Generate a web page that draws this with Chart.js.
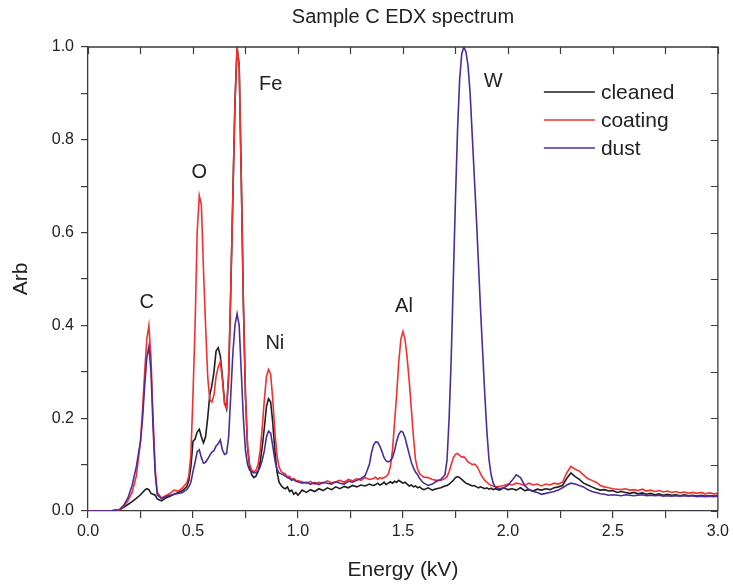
<!DOCTYPE html>
<html>
<head>
<meta charset="utf-8">
<title>Sample C EDX spectrum</title>
<script src="https://cdn.jsdelivr.net/npm/chart.js@4.4.1/dist/chart.umd.min.js"></script>
<style>
  html, body { margin: 0; padding: 0; background: #fff; }
  #wrap { width: 733px; height: 586px; }
</style>
</head>
<body>
<div id="wrap"><canvas id="spectrum" width="733" height="586"></canvas></div>
<script>
// energy axis (kV), denser sampling around the peaks
const energies = [
  0, 0.10, 0.15, 0.17, 0.19, 0.21, 0.23, 0.25, 0.26, 0.27, 0.28, 0.29, 0.30, 0.31, 0.32, 0.33,
  0.35, 0.37, 0.39, 0.41, 0.43, 0.45, 0.47,
  0.48, 0.49, 0.50, 0.51, 0.52, 0.53, 0.54, 0.55, 0.56, 0.57,
  0.58, 0.59, 0.60, 0.61, 0.62, 0.63, 0.64, 0.65, 0.66, 0.67,
  0.68, 0.69, 0.70, 0.71, 0.72, 0.73, 0.74, 0.75, 0.76, 0.77,
  0.78, 0.79, 0.80, 0.81, 0.82, 0.83, 0.84, 0.85, 0.86, 0.87,
  0.88, 0.89, 0.90, 0.91, 0.92, 0.93, 0.94, 0.95, 0.96, 0.97,
  0.98, 0.99, 1.00,
  1.02, 1.04, 1.06, 1.08, 1.10, 1.12, 1.14, 1.16, 1.18, 1.20, 1.22, 1.24, 1.26, 1.28, 1.30, 1.32, 1.34,
  1.35, 1.36, 1.37, 1.38, 1.39, 1.40, 1.41, 1.42, 1.43, 1.44, 1.45, 1.46, 1.47,
  1.48, 1.49, 1.50, 1.51, 1.52, 1.53, 1.54, 1.55, 1.56, 1.57, 1.58, 1.59, 1.60,
  1.62, 1.64, 1.66, 1.68, 1.70,
  1.71, 1.72, 1.73, 1.74, 1.75, 1.76, 1.77, 1.78, 1.79, 1.80, 1.81, 1.82,
  1.83, 1.84, 1.85, 1.86, 1.87, 1.88, 1.89, 1.90, 1.91, 1.92, 1.93, 1.94,
  1.96, 1.98, 2.00, 2.02, 2.04, 2.06, 2.08, 2.10, 2.12, 2.14,
  2.16, 2.18, 2.20, 2.22, 2.24, 2.26, 2.28, 2.30, 2.32, 2.34,
  2.36, 2.38, 2.40, 2.42, 2.44, 2.46, 2.48, 2.50, 2.52, 2.54,
  2.56, 2.58, 2.60, 2.62, 2.64, 2.66, 2.68, 2.70, 2.72, 2.74,
  2.76, 2.78, 2.80, 2.82, 2.84, 2.86, 2.88, 2.90, 2.92, 2.94,
  2.96, 2.98, 3.00
];

const cleaned = [
  0, 0, 0.002, 0.008, 0.014, 0.020, 0.027, 0.035, 0.040, 0.045, 0.048, 0.046, 0.038, 0.036, 0.034, 0.026,
  0.022, 0.028, 0.032, 0.036, 0.040, 0.044, 0.052,
  0.065, 0.095, 0.150, 0.155, 0.170, 0.176, 0.160, 0.147, 0.160, 0.200,
  0.250, 0.270, 0.300, 0.345, 0.352, 0.335, 0.290, 0.235, 0.220, 0.290,
  0.475, 0.680, 0.880, 1.000, 0.960, 0.718, 0.448, 0.248, 0.137, 0.094,
  0.078, 0.072, 0.075, 0.085, 0.105, 0.140, 0.180, 0.225, 0.242, 0.235,
  0.190, 0.130, 0.085, 0.062, 0.055, 0.050, 0.048, 0.052, 0.042, 0.045,
  0.036, 0.040, 0.034,
  0.045, 0.040, 0.046, 0.042, 0.048, 0.044, 0.050, 0.046, 0.052, 0.048, 0.053, 0.050, 0.055, 0.052, 0.056, 0.054, 0.058,
  0.056, 0.055, 0.057, 0.060, 0.056, 0.058, 0.062, 0.057, 0.060, 0.063, 0.060, 0.064, 0.062,
  0.066, 0.063, 0.060, 0.062, 0.058, 0.054, 0.056, 0.052, 0.054, 0.050, 0.052, 0.048, 0.046,
  0.050, 0.045, 0.048, 0.050, 0.054,
  0.055, 0.058, 0.062, 0.066, 0.072, 0.074, 0.072, 0.068, 0.064, 0.060, 0.058, 0.056,
  0.054, 0.055, 0.052, 0.050, 0.052, 0.050, 0.048, 0.050, 0.047, 0.049, 0.046, 0.048,
  0.045, 0.050, 0.046, 0.048, 0.045, 0.050, 0.044, 0.046, 0.043, 0.047,
  0.045, 0.048, 0.046, 0.050, 0.052, 0.055, 0.070, 0.082, 0.074, 0.068,
  0.060, 0.056, 0.052, 0.048, 0.045, 0.046, 0.043, 0.044, 0.040, 0.042,
  0.040, 0.038, 0.040, 0.037, 0.039, 0.036, 0.038, 0.035, 0.037, 0.034,
  0.036, 0.034, 0.035, 0.033, 0.035, 0.033, 0.034, 0.032, 0.034, 0.032,
  0.033, 0.032, 0.033
];

const coating = [
  0, 0, 0.002, 0.010, 0.022, 0.040, 0.075, 0.150, 0.220, 0.300, 0.370, 0.400, 0.330, 0.200, 0.090, 0.040,
  0.028, 0.033, 0.038, 0.045, 0.043, 0.050, 0.060,
  0.075, 0.120, 0.250, 0.400, 0.600, 0.680, 0.660, 0.520, 0.400, 0.290,
  0.240, 0.235, 0.250, 0.290, 0.310, 0.322, 0.285, 0.230, 0.222, 0.300,
  0.480, 0.680, 0.880, 1.000, 0.960, 0.720, 0.450, 0.250, 0.140, 0.100,
  0.088, 0.085, 0.088, 0.100, 0.130, 0.180, 0.240, 0.290, 0.305, 0.295,
  0.240, 0.170, 0.120, 0.095, 0.085, 0.082, 0.080, 0.073, 0.075, 0.068,
  0.070, 0.066, 0.065,
  0.063, 0.060, 0.064, 0.058, 0.062, 0.060, 0.065, 0.061, 0.063, 0.066, 0.062, 0.068, 0.065, 0.070, 0.066, 0.072, 0.068,
  0.069, 0.070, 0.073, 0.068, 0.072, 0.070, 0.072, 0.074, 0.080, 0.095, 0.130, 0.190, 0.250,
  0.320, 0.370, 0.387, 0.370, 0.330, 0.280, 0.220, 0.160, 0.110, 0.090, 0.080, 0.076, 0.073,
  0.072, 0.068, 0.066, 0.066, 0.070,
  0.074, 0.085, 0.100, 0.115, 0.122, 0.124, 0.120, 0.116, 0.117, 0.112, 0.106, 0.103,
  0.100, 0.101, 0.098, 0.090, 0.080, 0.072, 0.066, 0.062, 0.058, 0.055, 0.054, 0.052,
  0.053, 0.055, 0.058, 0.056, 0.060, 0.058, 0.055, 0.060, 0.056, 0.058,
  0.054, 0.058, 0.056, 0.060, 0.058, 0.062, 0.082, 0.096, 0.090, 0.086,
  0.078, 0.070, 0.066, 0.062, 0.055, 0.052, 0.050, 0.048, 0.047, 0.046,
  0.048, 0.045, 0.046, 0.044, 0.047, 0.043, 0.045, 0.042, 0.044, 0.041,
  0.043, 0.040, 0.042, 0.039, 0.041, 0.038, 0.040, 0.038, 0.040, 0.037,
  0.039, 0.037, 0.038
];

const dust = [
  0, 0, 0.003, 0.012, 0.028, 0.055, 0.095, 0.150, 0.200, 0.270, 0.330, 0.355, 0.300, 0.180, 0.080, 0.035,
  0.027, 0.031, 0.034, 0.036, 0.038, 0.040, 0.046,
  0.052, 0.062, 0.085, 0.105, 0.128, 0.132, 0.115, 0.103, 0.105, 0.112,
  0.120, 0.127, 0.130, 0.140, 0.145, 0.153, 0.132, 0.122, 0.124, 0.160,
  0.250, 0.340, 0.400, 0.425, 0.400, 0.300, 0.200, 0.130, 0.100, 0.088,
  0.085, 0.082, 0.083, 0.086, 0.095, 0.110, 0.130, 0.160, 0.172, 0.168,
  0.140, 0.110, 0.090, 0.082, 0.080, 0.078, 0.075, 0.072, 0.070, 0.066,
  0.068, 0.064, 0.063,
  0.060, 0.062, 0.058, 0.061, 0.057, 0.062, 0.060, 0.058, 0.063, 0.060, 0.058, 0.064, 0.062, 0.066, 0.070, 0.076, 0.100,
  0.125, 0.142, 0.149, 0.148, 0.140, 0.128, 0.115, 0.108, 0.106, 0.108, 0.115, 0.130, 0.150,
  0.165, 0.172, 0.170, 0.158, 0.140, 0.122, 0.105, 0.093, 0.084, 0.078, 0.070, 0.064, 0.060,
  0.055, 0.058, 0.064, 0.068, 0.078,
  0.110, 0.200, 0.330, 0.500, 0.670, 0.820, 0.930, 0.985, 1.000, 0.990, 0.960, 0.900,
  0.810, 0.720, 0.630, 0.530, 0.430, 0.340, 0.250, 0.170, 0.110, 0.078, 0.060, 0.052,
  0.048, 0.050, 0.055, 0.066, 0.078, 0.072, 0.055, 0.046, 0.042, 0.040,
  0.036, 0.038, 0.040, 0.042, 0.045, 0.050, 0.056, 0.060, 0.058, 0.055,
  0.052, 0.046, 0.042, 0.040, 0.037, 0.036, 0.034, 0.035, 0.034, 0.033,
  0.035, 0.034, 0.033, 0.034, 0.035, 0.033, 0.034, 0.033, 0.034, 0.032,
  0.033, 0.032, 0.033, 0.032, 0.033, 0.032, 0.033, 0.031, 0.032, 0.031,
  0.032, 0.031, 0.032
];

const seriesNames = ['cleaned', 'coating', 'dust'];
const seriesColors = ['#1e1e1e', '#f23030', '#4a2d98'];

// element markers, placed in data units (energy, height)
const peakNames = ['C', 'O', 'Fe', 'Ni', 'Al', 'W'];
const peakEnergy = [0.28, 0.53, 0.87, 0.89, 1.505, 1.93];
const peakHeight = [0.45, 0.73, 0.92, 0.362, 0.44, 0.925];

const FONT = '"Liberation Sans", Arial, Helvetica, sans-serif';
const INK = '#222';
const AXIS = '#3a3a3a';

Chart.defaults.font.family = FONT;
Chart.defaults.color = INK;

function toPoints(values) {
  return energies.map((e, i) => ({ x: e, y: values[i] }));
}

// frame, inner ticks on top/right, element names, legend and title
const decorations = {
  id: 'decorations',
  afterDraw(chart) {
    const { ctx, chartArea: a, scales } = chart;
    const xs = scales.x, ys = scales.y;
    ctx.save();

    ctx.strokeStyle = AXIS;
    ctx.lineWidth = 1.3;
    ctx.beginPath();
    ctx.moveTo(a.left, a.top);
    ctx.lineTo(a.right, a.top);
    ctx.lineTo(a.right, a.bottom);
    ctx.stroke();

    ctx.lineWidth = 1.2;
    ctx.beginPath();
    xs.ticks.forEach(t => {
      const px = Math.round(xs.getPixelForValue(t.value)) + 0.5;
      ctx.moveTo(px, a.top);
      ctx.lineTo(px, a.top + 7);
    });
    ys.ticks.forEach(t => {
      const py = Math.round(ys.getPixelForValue(t.value)) + 0.5;
      ctx.moveTo(a.right, py);
      ctx.lineTo(a.right - 7, py);
    });
    ctx.stroke();

    ctx.fillStyle = INK;
    ctx.font = '20px ' + FONT;
    ctx.textAlign = 'center';
    ctx.textBaseline = 'middle';
    peakNames.forEach((name, i) => {
      ctx.fillText(name, xs.getPixelForValue(peakEnergy[i]), ys.getPixelForValue(peakHeight[i]));
    });

    // legend box in the upper right corner
    const lx = a.right - 174;
    seriesNames.forEach((name, i) => {
      const ly = a.top + 45 + i * 28;
      ctx.strokeStyle = seriesColors[i];
      ctx.lineWidth = 1.5;
      ctx.beginPath();
      ctx.moveTo(lx, ly);
      ctx.lineTo(lx + 51, ly);
      ctx.stroke();
      ctx.fillStyle = INK;
      ctx.textAlign = 'left';
      ctx.font = '21px ' + FONT;
      ctx.fillText(name, lx + 57, ly + 1);
    });

    ctx.textAlign = 'center';
    ctx.font = '20px ' + FONT;
    ctx.fillText('Sample C EDX spectrum', (a.left + a.right) / 2, 17);
    ctx.restore();
  }
};

const datasets = [cleaned, coating, dust].map((values, i) => ({
  label: seriesNames[i],
  data: toPoints(values),
  borderColor: seriesColors[i],
  backgroundColor: seriesColors[i],
  borderWidth: 1.6,
  pointRadius: 0,
  tension: 0,
  fill: false,
  order: 3 - i
}));

new Chart(document.getElementById('spectrum'), {
  type: 'line',
  data: { datasets: datasets },
  options: {
    responsive: false,
    animation: false,
    devicePixelRatio: 1,
    events: [],
    layout: { padding: { top: 47, right: 15, bottom: 0, left: 0 } },
    plugins: {
      legend: { display: false },
      title: { display: false },
      tooltip: { enabled: false }
    },
    scales: {
      x: {
        type: 'linear',
        min: 0,
        max: 3,
        afterFit: s => { s.height = 75; },
        ticks: {
          stepSize: 0.25,
          autoSkip: false,
          maxRotation: 0,
          padding: 4,
          color: INK,
          font: { size: 16 },
          callback: v => (Math.round(v * 4) % 2 === 0 ? v.toFixed(1) : '')
        },
        grid: { drawOnChartArea: false, drawTicks: true, tickLength: 7, color: AXIS, lineWidth: 1.2 },
        border: { display: true, color: AXIS, width: 1.3 },
        title: { display: true, text: 'Energy (kV)', color: INK, font: { size: 21 }, padding: { top: 0, bottom: 3 } }
      },
      y: {
        min: 0,
        max: 1,
        afterFit: s => { s.width = 88; },
        ticks: {
          stepSize: 0.1,
          autoSkip: false,
          padding: 7,
          color: INK,
          font: { size: 16 },
          callback: v => (Math.round(v * 10) % 2 === 0 ? v.toFixed(1) : '')
        },
        grid: { drawOnChartArea: false, drawTicks: true, tickLength: 7, color: AXIS, lineWidth: 1.2 },
        border: { display: true, color: AXIS, width: 1.3 },
        title: { display: true, text: 'Arb', color: INK, font: { size: 21 }, padding: { top: 9, bottom: 0 } }
      }
    }
  },
  plugins: [decorations]
});
</script>
</body>
</html>
